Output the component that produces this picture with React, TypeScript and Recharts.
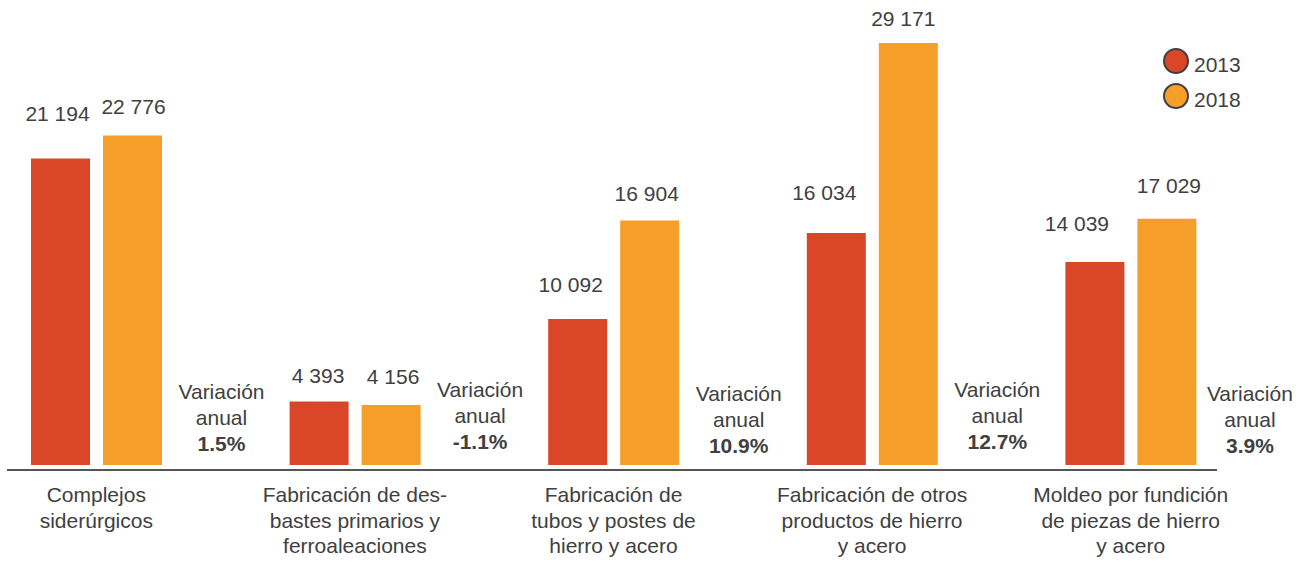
import React from 'react';
import { BarChart, Bar, XAxis, YAxis, Legend, LabelList } from 'recharts';

// Categorías (nombre completo) y cómo se parten en renglones bajo el eje
const CATEGORIAS = [
  'Complejos siderúrgicos',
  'Fabricación de desbastes primarios y ferroaleaciones',
  'Fabricación de tubos y postes de hierro y acero',
  'Fabricación de otros productos de hierro y acero',
  'Moldeo por fundición de piezas de hierro y acero',
];

const RENGLONES = [
  ['Complejos', 'siderúrgicos'],
  ['Fabricación de des-', 'bastes primarios y', 'ferroaleaciones'],
  ['Fabricación de', 'tubos y postes de', 'hierro y acero'],
  ['Fabricación de otros', 'productos de hierro', 'y acero'],
  ['Moldeo por fundición', 'de piezas de hierro', 'y acero'],
];

const VALORES_2013 = [21194, 4393, 10092, 16034, 14039];
const VALORES_2018 = [22776, 4156, 16904, 29171, 17029];
const VARIACION = [1.5, -1.1, 10.9, 12.7, 3.9];

// Ajustes a mano de las etiquetas de valor (como en el original)
const NUDGE_2013 = [
  { dx: -3, lift: 37 },
  { dx: -1, lift: 18 },
  { dx: -7, lift: 27 },
  { dx: -12, lift: 33 },
  { dx: -18, lift: 31 },
];
const NUDGE_2018 = [
  { dx: 1, lift: 22 },
  { dx: 2, lift: 21 },
  { dx: -3, lift: 19 },
  { dx: -5, lift: 17 },
  { dx: 2, lift: 26 },
];
// Desplazamiento del bloque "Variación anual" por grupo
const NUDGE_VAR = [
  { dx: 17, dy: 0 },
  { dx: 17, dy: -2 },
  { dx: 17, dy: 2 },
  { dx: 17, dy: -2 },
  { dx: 11, dy: 2 },
];

const RED = '#DA4628';
const ORANGE = '#F59E2A';
const TEXT = '#404040';
const FONT = '"Liberation Sans", Arial, sans-serif';

const data = CATEGORIAS.map((categoria, i) => ({
  categoria,
  y2013: VALORES_2013[i],
  y2018: VALORES_2018[i],
  variacion: VARIACION[i],
}));

const formatMiles = (v: number) =>
  String(v).replace(/\B(?=(\d{3})+(?!\d))/g, ' ');

const valueLabel = (nudges: { dx: number; lift: number }[]) => (props: any) => {
  const { x, y, width, value, index } = props;
  const n = nudges[index] || { dx: 0, lift: 20 };
  return (
    <text
      x={Number(x) + Number(width) / 2 + n.dx}
      y={Number(y) - n.lift}
      textAnchor="middle"
      fontSize={21}
      fontFamily={FONT}
      fill={TEXT}
    >
      {formatMiles(value)}
    </text>
  );
};

const VariacionLabel = (props: any) => {
  const { x, y, width, height, index } = props;
  const n = NUDGE_VAR[index] || { dx: 17, dy: 0 };
  const cx = Number(x) + Number(width) / 2 + n.dx;
  const base = Number(y) + Math.max(Number(height) || 0, 0) + n.dy;
  return (
    <text textAnchor="middle" fontSize={21} fontFamily={FONT} fill={TEXT}>
      <tspan x={cx} y={base - 66}>
        Variación
      </tspan>
      <tspan x={cx} y={base - 40}>
        anual
      </tspan>
      <tspan x={cx} y={base - 14} fontWeight="bold">
        {VARIACION[index].toFixed(1)}%
      </tspan>
    </text>
  );
};

const CategoryTick = (props: any) => {
  const { x, y, payload } = props;
  const lines = RENGLONES[payload.index] || [payload.value];
  return (
    <text textAnchor="middle" fontSize={21} fontFamily={FONT} fill={TEXT}>
      {lines.map((l, i) => (
        <tspan key={i} x={x - 36} y={y + 37 + i * 25.5}>
          {l}
        </tspan>
      ))}
    </text>
  );
};

const renderLegend = (props: any) => {
  const items = (props.payload || []).filter(
    (p: any) => p.dataKey !== 'variacion'
  );
  return (
    <svg width={100} height={80}>
      {items.map((p: any, i: number) => (
        <g key={p.value}>
          <circle
            cx={14}
            cy={15 + i * 35}
            r={12}
            fill={p.color}
            stroke={TEXT}
            strokeWidth={2}
          />
          <text
            x={32}
            y={26 + i * 35}
            fontSize={21}
            fontFamily={FONT}
            fill={TEXT}
          >
            {p.value}
          </text>
        </g>
      ))}
    </svg>
  );
};

export default function App() {
  return (
    <div
      style={{
        position: 'absolute',
        left: 0,
        top: 0,
        width: 1309,
        height: 564,
        background: '#fff',
      }}
    >
      <BarChart
        width={1309}
        height={564}
        data={data}
        barSize={59}
        barGap={13}
        margin={{ top: 31, right: 13, left: 3, bottom: 0 }}
      >
        <XAxis
          dataKey="categoria"
          axisLine={false}
          tickLine={false}
          tickSize={0}
          tickMargin={0}
          height={99}
          interval={0}
          tick={<CategoryTick />}
        />
        <YAxis hide domain={[0, 30000]} allowDataOverflow />
        <Legend
          layout="vertical"
          align="center"
          verticalAlign="middle"
          content={renderLegend}
          wrapperStyle={{ position: 'absolute', left: 1162, top: 46, width: 100, height: 80 }}
        />
        <Bar dataKey="y2013" name="2013" fill={RED} isAnimationActive={false}>
          <LabelList dataKey="y2013" content={valueLabel(NUDGE_2013)} />
        </Bar>
        <Bar dataKey="y2018" name="2018" fill={ORANGE} isAnimationActive={false}>
          <LabelList dataKey="y2018" content={valueLabel(NUDGE_2018)} />
        </Bar>
        <Bar
          dataKey="variacion"
          name="Variación anual"
          fill="transparent"
          legendType="none"
          isAnimationActive={false}
        >
          <LabelList dataKey="variacion" content={<VariacionLabel />} />
        </Bar>
      </BarChart>
      {/* línea base del eje, más corta que el área de trazado */}
      <div
        style={{
          position: 'absolute',
          left: 7,
          top: 469,
          width: 1210,
          height: 2,
          background: '#555',
        }}
      />
    </div>
  );
}
